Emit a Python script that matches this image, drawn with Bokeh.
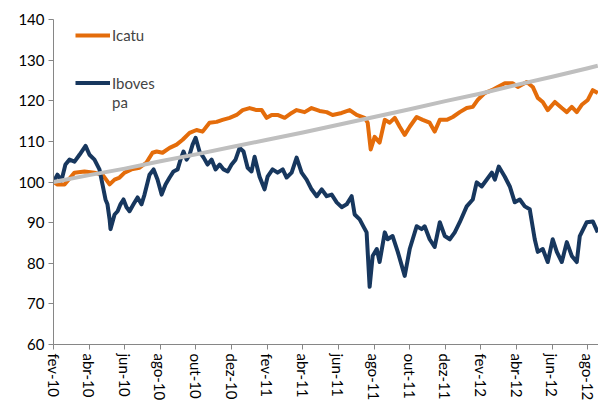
from bokeh.plotting import figure
from bokeh.models import Range1d, FixedTicker, Legend, LegendItem
from bokeh.embed import file_html
from bokeh.resources import INLINE

# months since fev-10
tick_months = list(range(0, 31, 2))
tick_labels = ["fev-10", "abr-10", "jun-10", "ago-10", "out-10", "dez-10",
               "fev-11", "abr-11", "jun-11", "ago-11", "out-11", "dez-11",
               "fev-12", "abr-12", "jun-12", "ago-12"]

ibov_m = [0, 0.22, 0.45, 0.67, 0.90, 1.18, 1.46, 1.80, 2.02, 2.30, 2.58, 2.75, 2.92, 3.03, 3.15, 3.20,
          3.43, 3.60, 3.76, 3.93, 4.10, 4.27, 4.49, 4.72, 4.94, 5.11, 5.39, 5.62, 5.84, 6.07, 6.29,
          6.52, 6.74, 6.97, 7.13, 7.30, 7.47, 7.64, 7.81, 7.98, 8.20, 8.43, 8.65, 8.88, 9.10, 9.33,
          9.55, 9.78, 10.0, 10.22, 10.45, 10.67, 10.90, 11.12, 11.29, 11.57, 11.85, 12.02, 12.30,
          12.58, 12.87, 13.09, 13.37, 13.65, 13.93, 14.21, 14.49, 14.78, 15.06, 15.34, 15.62, 15.90,
          16.18, 16.46, 16.74, 16.91, 17.19, 17.42, 17.58, 17.75, 17.92, 18.15, 18.31, 18.60, 18.76,
          19.04, 19.33, 19.72, 20.0, 20.39, 20.67, 20.84, 21.12, 21.40, 21.69, 21.97, 22.25, 22.53,
          22.81, 23.20, 23.54, 23.76, 24.04, 24.33, 24.61, 24.78, 25.0, 25.34, 25.62, 25.90, 26.18,
          26.46, 26.74, 27.02, 27.19, 27.47, 27.75, 28.03, 28.26, 28.54, 28.82, 29.10, 29.38, 29.55,
          29.94, 30.28, 30.56]
ibov_v = [100.0, 101.8, 100.4, 104.3, 105.5, 105.0, 106.7, 108.9, 106.7, 105.5, 103.1, 99.4, 95.7, 94.5, 90.8, 88.4,
          92.0, 92.8, 94.5, 95.7, 93.8, 92.8, 94.5, 96.2, 94.5, 96.9, 101.8, 103.1, 100.6, 96.9, 99.4,
          101.1, 102.6, 103.1, 105.5, 107.5, 105.5, 106.7, 109.2, 110.9, 107.5, 106.0, 104.3, 105.5, 103.1, 104.3,
          103.1, 102.6, 104.3, 105.5, 108.4, 107.5, 103.5, 102.6, 106.2, 101.3, 98.2, 101.3, 103.1,
          102.3, 103.1, 101.1, 102.3, 106.0, 102.3, 100.6, 98.2, 96.5, 98.2, 96.5, 96.9, 95.0,
          93.8, 94.5, 96.5, 92.0, 90.8, 88.9, 87.6, 74.2, 81.8, 83.5, 80.3, 87.6, 85.9,
          86.7, 82.8, 76.9, 83.5, 89.1, 88.4, 89.1, 85.9, 84.0, 90.1, 86.7, 85.9, 87.6,
          90.1, 94.0, 95.7, 99.9, 98.9, 100.6, 102.3, 100.6, 103.8, 101.3, 98.9, 95.0, 95.7,
          94.0, 93.3, 85.9, 82.8, 83.5, 80.3, 85.9, 82.8, 80.3, 85.2, 81.8, 80.3, 86.7,
          90.1, 90.3, 87.6]

icatu_m = [0, 0.22, 0.62, 1.18, 1.74, 2.30, 2.75, 3.15, 3.43, 3.71, 3.99, 4.38, 4.83, 5.22, 5.56, 5.79,
           6.12, 6.52, 6.91, 7.25, 7.64, 8.03, 8.37, 8.76, 9.16, 9.49, 9.89, 10.28, 10.62, 11.01, 11.40,
           11.69, 11.97, 12.25, 12.58, 12.98, 13.37, 13.65, 14.10, 14.49, 14.94, 15.34, 15.67, 16.18,
           16.63, 17.02, 17.47, 17.64, 17.81, 18.03, 18.31, 18.60, 18.88, 19.16, 19.44, 19.72, 20.0,
           20.39, 20.73, 21.12, 21.40, 21.69, 22.08, 22.42, 22.81, 23.20, 23.54, 23.82, 24.21, 24.61,
           24.94, 25.34, 25.79, 26.07, 26.57, 26.91, 27.19, 27.47, 27.75, 28.15, 28.54, 28.82, 29.10,
           29.38, 29.66, 30.0, 30.28, 30.56]
icatu_v = [100.0, 99.4, 99.4, 102.3, 102.6, 102.3, 101.8, 99.4, 100.6, 101.1, 102.3, 103.1, 103.5, 104.8, 107.2, 107.5,
           107.2, 108.4, 109.2, 110.4, 112.1, 112.8, 112.4, 114.6, 114.8, 115.3, 115.8, 116.5, 117.7, 118.2, 117.7,
           117.7, 115.8, 116.5, 116.5, 115.8, 117.0, 117.7, 117.2, 118.2, 117.5, 117.2, 116.5, 117.0,
           117.7, 116.5, 115.8, 114.6, 108.0, 111.1, 109.7, 115.3, 114.6, 115.8, 113.6, 111.6, 113.6,
           116.0, 115.3, 114.6, 112.4, 115.3, 115.3, 116.0, 117.2, 118.2, 118.5, 120.2, 121.9, 122.6,
           123.4, 124.3, 124.3, 123.4, 124.6, 123.4, 120.7, 119.7, 117.7, 119.7, 118.2, 117.2, 118.5,
           117.2, 119.0, 120.2, 122.6, 121.9]

bench_m = [0, 2, 4, 6, 8, 10, 12, 14, 16, 18, 20, 22, 24, 26, 28, 30, 30.56]
bench_v = [100.0, 101.7, 103.3, 105.1, 106.8, 108.6, 110.4, 112.2, 114.1, 116.0, 117.9, 119.9,
           121.8, 123.9, 125.9, 128.0, 128.6]

ORANGE = "#E46C0A"
NAVY = "#17375E"
GRAY = "#BFBFBF"
AXIS = "#868686"
FONT = "Lato"

p = figure(width=598, height=403, output_backend="svg", toolbar_location=None,
           x_range=Range1d(0, 30.6), y_range=Range1d(60, 140),
           min_border_left=53, min_border_right=0, min_border_top=19, min_border_bottom=57)
p.outline_line_color = None
p.xgrid.visible = False
p.ygrid.visible = False
p.background_fill_color = "white"

r_icatu = p.line(icatu_m, icatu_v, line_color=ORANGE, line_width=4, line_join="round")
r_ibov = p.line(ibov_m, ibov_v, line_color=NAVY, line_width=4, line_join="round")
p.line(bench_m, bench_v, line_color=GRAY, line_width=4, line_join="round")
# invisible renderer used only to carry the wrapped second line of the legend label
r_blank = p.line([], [], line_alpha=0)

for ax in (p.xaxis[0], p.yaxis[0]):
    ax.axis_line_color = AXIS
    ax.major_tick_line_color = AXIS
    ax.minor_tick_line_color = None
    ax.major_tick_out = 5
    ax.major_tick_in = 0
    ax.major_label_text_font = FONT
    ax.major_label_text_font_size = "15px"
    ax.major_label_text_color = "#000000"

p.yaxis.ticker = FixedTicker(ticks=list(range(60, 141, 10)))
p.xaxis.ticker = FixedTicker(ticks=tick_months)
p.xaxis.major_label_overrides = {m: lab for m, lab in zip(tick_months, tick_labels)}
p.xaxis.major_label_orientation = "vertical"
p.xaxis.major_label_standoff = 4
p.yaxis.major_label_standoff = 4

leg1 = Legend(items=[LegendItem(label="Icatu", renderers=[r_icatu])], location=(22, 299),
              padding=0, margin=0, spacing=0, glyph_width=35, glyph_height=20, label_height=20,
              label_standoff=2, background_fill_alpha=0, border_line_alpha=0,
              label_text_font=FONT, label_text_font_size="15px")
leg2 = Legend(items=[LegendItem(label="Iboves", renderers=[r_ibov]),
                     LegendItem(label="pa", renderers=[r_blank])], location=(22, 233),
              padding=0, margin=0, spacing=0, glyph_width=35, glyph_height=19, label_height=19,
              label_standoff=2, background_fill_alpha=0, border_line_alpha=0,
              label_text_font=FONT, label_text_font_size="15px")
p.add_layout(leg1)
p.add_layout(leg2)

open("out.html", "w").write(file_html(p, INLINE))
